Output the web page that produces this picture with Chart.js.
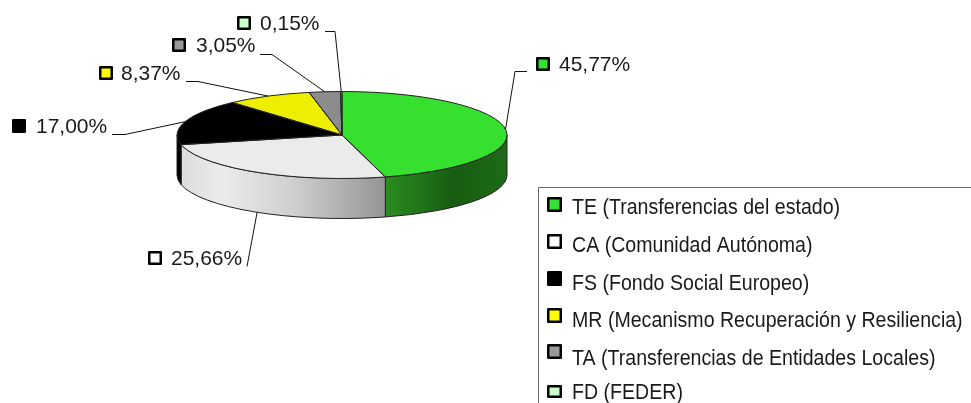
<!DOCTYPE html>
<html>
<head>
<meta charset="utf-8">
<style>html,body{margin:0;padding:0;background:#fff}canvas{display:block}</style>
<script src="https://cdn.jsdelivr.net/npm/chart.js@4/dist/chart.umd.min.js"></script>
</head>
<body>
<canvas id="c" width="971" height="403"></canvas>
<script>
const categories = ['TE (Transferencias del estado)','CA (Comunidad Autónoma)','FS (Fondo Social Europeo)','MR (Mecanismo Recuperación y Resiliencia)','TA (Transferencias de Entidades Locales)','FD (FEDER)'];
const values = [45.77,25.66,17.00,8.37,3.05,0.15];
const valueLabels = ['45,77%','25,66%','17,00%','8,37%','3,05%','0,15%'];

const sliceColors = ['#36e02e','#ebebeb','#000000','#eeee00','#8c8c8c','#ccffcc'];
const markerColors = ['#33e033','#ffffff','#000000','#ffff00','#999999','#ccffcc'];
const wallStops = [
  [[0,'#2a8c20'],[0.3,'#1f7418'],[0.55,'#185c12'],[1,'#1e6b17']],
  [[0,'#dcdcdc'],[0.2,'#ebebeb'],[0.55,'#cfcfcf'],[1,'#959595']],
  [[0,'#000000'],[1,'#000000']],
  [[0,'#777700'],[1,'#777700']],
  [[0,'#444444'],[1,'#444444']],
  [[0,'#668866'],[1,'#668866']]
];
const centerY = 135, squash = 43.5/165, depth = 40;
const labelLayout = [
  {mx:536,tx:559,cy:65, p0:[527,71], p1:[515,71]},
  {mx:148,tx:171,cy:259,p0:[247,266],p1:null},
  {mx:12, tx:36, cy:127,p0:[112,134],p1:[125,134]},
  {mx:99, tx:121,cy:74, p0:[186,81], p1:[198,81]},
  {mx:172,tx:196,cy:46, p0:[260,54], p1:[272,54]},
  {mx:237,tx:260,cy:24, p0:[325,31], p1:[335,31]}
];
const legendBox = {x:538.5,y:187.5};
const legendRows = [{my:197,ty:208},{my:234,ty:246},{my:271,ty:284},{my:308,ty:321},{my:344,ty:359},{my:385,ty:393}];
const FONT = '"Liberation Sans", Arial, sans-serif';
const legendScaleX = 0.89;
const legendSize = 22, labelSize = 21;

function marker(ctx,x,y,color,w,h){
  ctx.fillStyle=color; ctx.strokeStyle='#000'; ctx.lineWidth=2.5; ctx.lineJoin='round';
  ctx.beginPath(); ctx.rect(x+1.25,y+1.25,w-2.5,h-2.5); ctx.fill(); ctx.stroke();
}
const pie3d = {
  id:'pie3d',
  beforeDatasetsDraw(chart){
    const ctx=chart.ctx, arcs=chart.getDatasetMeta(0).data;
    arcs.forEach((a,i)=>{
      const p=a.getProps(['x','startAngle','endAngle','outerRadius']);
      const s=Math.max(p.startAngle,0), e=Math.min(p.endAngle,Math.PI);
      if(e<=s) return;
      const rx=p.outerRadius, ry=rx*squash;
      const x0=p.x+rx*Math.cos(e), x1=p.x+rx*Math.cos(s);
      const g=ctx.createLinearGradient(x0,0,x1,0);
      wallStops[i].forEach(st=>g.addColorStop(st[0],st[1]));
      ctx.beginPath();
      ctx.ellipse(p.x,centerY,rx,ry,0,s,e);
      ctx.ellipse(p.x,centerY+depth,rx,ry,0,e,s,true);
      ctx.closePath();
      ctx.fillStyle=g; ctx.fill();
      ctx.strokeStyle='#222'; ctx.lineWidth=1; ctx.stroke();
    });
  },
  beforeDatasetDraw(chart){
    const ctx=chart.ctx, a=chart.getDatasetMeta(0).data[0];
    ctx.save();
    ctx.translate(0,centerY);
    ctx.scale(1,squash);
    ctx.translate(0,-a.y);
  },
  afterDatasetDraw(chart){
    const ctx=chart.ctx, arcs=chart.getDatasetMeta(0).data;
    ctx.restore();
    arcs.forEach(a=>{
      const p=a.getProps(['x','startAngle','endAngle','outerRadius']);
      const rx=p.outerRadius, ry=rx*squash;
      ctx.beginPath();
      ctx.moveTo(p.x,centerY);
      ctx.ellipse(p.x,centerY,rx,ry,0,p.startAngle,p.endAngle);
      ctx.closePath();
      ctx.strokeStyle='#222'; ctx.lineWidth=1; ctx.stroke();
    });
    arcs.forEach((a,i)=>{
      const p=a.getProps(['x','startAngle','endAngle','outerRadius']);
      const rx=p.outerRadius, ry=rx*squash, m=(p.startAngle+p.endAngle)/2;
      const ax=p.x+rx*Math.cos(m);
      let ay=centerY+ry*Math.sin(m);
      if(Math.sin(m)>0 && Math.cos(m)<0) ay+=depth;
      const L=labelLayout[i];
      ctx.beginPath();
      ctx.moveTo(L.p0[0],L.p0[1]+0.5);
      if(L.p1) ctx.lineTo(L.p1[0],L.p1[1]+0.5);
      ctx.lineTo(ax,ay);
      ctx.strokeStyle='#111'; ctx.lineWidth=1; ctx.stroke();
      marker(ctx,L.mx,L.cy-8,markerColors[i],14,14);
      ctx.fillStyle='#1a1a1a'; ctx.font=labelSize+'px '+FONT; ctx.textAlign='left'; ctx.textBaseline='middle';
      ctx.fillText(valueLabels[i],L.tx,L.cy);
    });
    ctx.beginPath();
    ctx.moveTo(legendBox.x,403); ctx.lineTo(legendBox.x,legendBox.y); ctx.lineTo(971,legendBox.y);
    ctx.strokeStyle='#666'; ctx.lineWidth=1; ctx.stroke();
    categories.forEach((t,i)=>{
      const r=legendRows[i];
      marker(ctx,547,r.my,markerColors[i],15,i===5?13:15);
      ctx.save();
      ctx.translate(572,r.ty);
      ctx.scale(legendScaleX,1);
      ctx.fillStyle='#1a1a1a'; ctx.font=legendSize+'px '+FONT; ctx.textAlign='left'; ctx.textBaseline='middle';
      ctx.fillText(t,0,0);
      ctx.restore();
    });
  }
};
new Chart(document.getElementById('c'),{
  type:'pie',
  data:{labels:categories,datasets:[{data:values,backgroundColor:sliceColors,borderWidth:0,clip:false}]},
  options:{
    responsive:false,animation:false,
    layout:{padding:{left:177,right:464,top:36.5,bottom:36.5}},
    plugins:{legend:{display:false},tooltip:{enabled:false}}
  },
  plugins:[pie3d]
});
</script>
</body>
</html>
